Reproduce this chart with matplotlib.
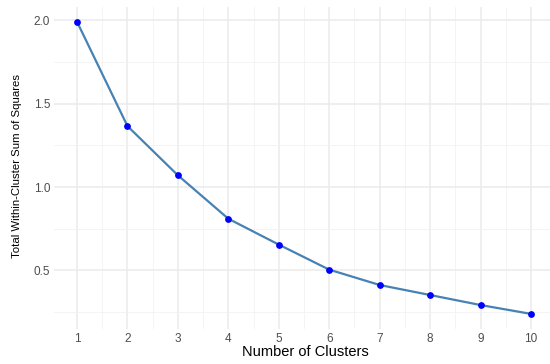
import matplotlib
matplotlib.use("Agg")
import matplotlib.pyplot as plt
from matplotlib.ticker import MultipleLocator

plt.rcParams["font.family"] = ["Liberation Sans", "DejaVu Sans"]

# elbow curve values
clusters = [1, 2, 3, 4, 5, 6, 7, 8, 9, 10]
wss = [1.99, 1.365, 1.07, 0.81, 0.655, 0.505, 0.413, 0.353, 0.293, 0.24]

W, H = 550, 364
fig = plt.figure(figsize=(W / 100, H / 100), dpi=100)
left, bottom, pw, ph = 54.3, 328.5, 499.4, 321.4
ax = fig.add_axes([left / W, (H - bottom) / H, pw / W, ph / H])

ax.plot(clusters, wss, color="#4682B4", lw=1.6, zorder=3)
ax.scatter(clusters, wss, color="#0000FF", s=24, zorder=4, linewidths=0)

ax.set_xlim(0.55, 10.45)
ax.set_ylim(0.1525, 2.0775)
ax.set_xticks(clusters)
ax.set_yticks([0.5, 1.0, 1.5, 2.0])
ax.set_yticklabels(["0.5", "1.0", "1.5", "2.0"])
ax.xaxis.set_minor_locator(MultipleLocator(0.5))
ax.yaxis.set_minor_locator(MultipleLocator(0.25))

ax.grid(which="major", color="#EBEBEB", lw=1.1)
ax.grid(which="minor", color="#F2F2F2", lw=0.6)
ax.set_axisbelow(True)
for s in ax.spines.values():
    s.set_visible(False)
ax.tick_params(which="both", length=0, labelsize=8.5, labelcolor="#4D4D4D", pad=3)

ax.set_xlabel("Number of Clusters", fontsize=10.5, va="center")
ax.xaxis.set_label_coords(0.5 - (left + pw / 2 - 305) / pw, -(352 - bottom) / ph)
ax.set_ylabel("Total Within-Cluster Sum of Squares", fontsize=8.2, va="center")
ax.yaxis.set_label_coords(-(left - 17) / pw, (bottom - 166) / ph)

fig.savefig("out.png", dpi=100)
